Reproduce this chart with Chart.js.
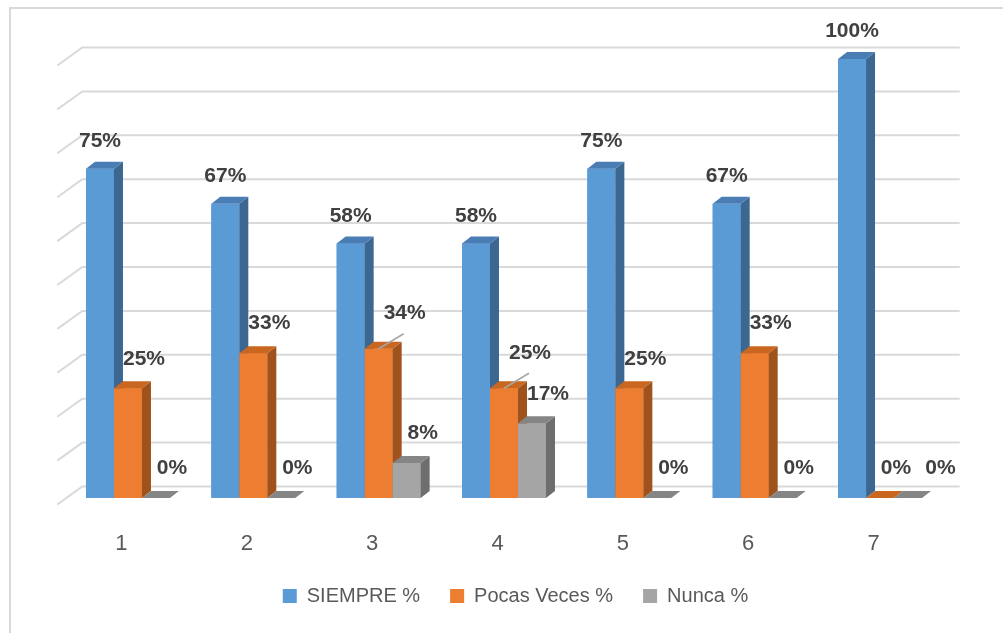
<!DOCTYPE html>
<html>
<head>
<meta charset="utf-8">
<script src="https://cdn.jsdelivr.net/npm/chart.js@4.4.1/dist/chart.umd.min.js"></script>
<style>
  html, body { margin: 0; padding: 0; background: #fff; overflow: hidden; }
  #wrap { position: relative; width: 1003px; height: 633px; }
  #marco { position: absolute; left: 9px; top: 7px; right: 0; bottom: 0;
           border-left: 2px solid #d9d9d9; border-top: 2px solid #d9d9d9; pointer-events: none; }
</style>
</head>
<body>
<div id="wrap">
  <canvas id="grafico" width="1003" height="633"></canvas>
  <div id="marco"></div>
</div>
<script>
// datos
const categorias = ['1', '2', '3', '4', '5', '6', '7'];
const siempre = [75, 67, 58, 58, 75, 67, 100];
const pocasVeces = [25, 33, 34, 25, 25, 33, 0];
const nunca = [0, 0, 8, 17, 0, 0, 0];
const series = ['SIEMPRE %', 'Pocas Veces %', 'Nunca %'];

// colores de cada cara de las barras 3D
const caras = [
  { frente: '#5B9BD5', lado: '#3C6791', tope: '#4A7DB3' },
  { frente: '#ED7D31', lado: '#A0521C', tope: '#C9661F' },
  { frente: '#A5A5A5', lado: '#6E6E6E', tope: '#858585' }
];
const PROF_X = 9, PROF_Y = -7;

Chart.defaults.font.family = '"Liberation Sans", Arial, sans-serif';

function poligono(ctx, color, pts) {
  ctx.fillStyle = color;
  ctx.beginPath();
  ctx.moveTo(pts[0][0], pts[0][1]);
  for (let k = 1; k < pts.length; k++) ctx.lineTo(pts[k][0], pts[k][1]);
  ctx.closePath();
  ctx.fill();
}

const efecto3d = {
  id: 'efecto3d',
  beforeDatasetsDraw(chart) {
    // pared del fondo con sus lineas
    const { ctx, chartArea, scales: { y } } = chart;
    ctx.save();
    ctx.strokeStyle = '#d9d9d9';
    ctx.lineWidth = 2;
    y.ticks.forEach(t => {
      const yb = y.getPixelForValue(t.value) - 11.5;
      ctx.beginPath();
      ctx.moveTo(chartArea.left - 8, yb + 18);
      ctx.lineTo(chartArea.left + 17, yb);
      ctx.lineTo(chartArea.right + 17, yb);
      ctx.stroke();
    });
    ctx.restore();
  },
  afterDatasetsDraw(chart) {
    const { ctx } = chart;
    const metas = chart.data.datasets.map((_, d) => chart.getDatasetMeta(d));
    ctx.save();
    // caras de las barras, categoria por categoria
    categorias.forEach((_, i) => {
      metas.forEach((meta, d) => {
        const b = meta.data[i].getProps(['x', 'y', 'base', 'width'], true);
        const x0 = b.x - b.width / 2, x1 = b.x + b.width / 2;
        const c = caras[d];
        ctx.fillStyle = c.frente;
        ctx.fillRect(x0, b.y, b.width, b.base - b.y);
        poligono(ctx, c.lado, [[x1, b.y], [x1 + PROF_X, b.y + PROF_Y], [x1 + PROF_X, b.base + PROF_Y], [x1, b.base]]);
        poligono(ctx, c.tope, [[x0, b.y], [x1, b.y], [x1 + PROF_X, b.y + PROF_Y], [x0 + PROF_X, b.y + PROF_Y]]);
      });
    });

    // etiquetas de datos
    ctx.font = 'bold 21px "Liberation Sans", Arial, sans-serif';
    ctx.textAlign = 'center';
    ctx.textBaseline = 'bottom';
    categorias.forEach((_, i) => {
      let prevRight = -Infinity, prevBottom = -1000;
      metas.forEach((meta, d) => {
        const b = meta.data[i].getProps(['x', 'y', 'base', 'width'], true);
        const valor = chart.data.datasets[d].data[i];
        const texto = valor + '%';
        const w = ctx.measureText(texto).width;
        let cx = b.x, bottom = b.y - 17;
        if (d > 0) { cx = b.x + 16; bottom = b.y - 19; }
        const sig = chart.data.datasets[d + 1];
        if (d > 0 && sig && sig.data[i] > 0) {
          cx = b.x + 26; bottom = b.y - 25;
          ctx.strokeStyle = '#a6a6a6';
          ctx.lineWidth = 1.5;
          ctx.beginPath();
          ctx.moveTo(b.x, b.y);
          ctx.lineTo(b.x + 25, b.y - 15);
          ctx.stroke();
        }
        if (cx - w / 2 < prevRight + 14 && Math.abs(bottom - prevBottom) < 20) {
          cx = prevRight + 14 + w / 2;
        }
        ctx.fillStyle = '#404040';
        ctx.fillText(texto, cx, bottom);
        prevRight = cx + w / 2;
        prevBottom = bottom;
      });
    });
    ctx.restore();
  }
};

new Chart(document.getElementById('grafico'), {
  type: 'bar',
  data: {
    labels: categorias,
    datasets: [
      { label: series[0], data: siempre, backgroundColor: caras[0].frente },
      { label: series[1], data: pocasVeces, backgroundColor: caras[1].frente },
      { label: series[2], data: nunca, backgroundColor: caras[2].frente }
    ]
  },
  options: {
    responsive: false,
    animation: false,
    layout: { padding: { top: 59, left: 65.3, right: 37.3, bottom: 17 } },
    datasets: { bar: { categoryPercentage: 0.67, barPercentage: 1 } },
    plugins: {
      legend: {
        position: 'bottom',
        labels: { boxWidth: 14, boxHeight: 14, padding: 30, color: '#595959', font: { size: 20 } }
      },
      tooltip: { enabled: false }
    },
    scales: {
      x: {
        grid: { display: false },
        border: { display: false },
        ticks: { color: '#595959', font: { size: 22 }, padding: 25, labelOffset: -6.5 },
        afterFit(s) { s.height = 58; }
      },
      y: { display: false, min: 0, max: 100, ticks: { stepSize: 10 } },
      yDer: {
        position: 'right',
        grid: { display: false },
        border: { display: false },
        ticks: { display: false },
        afterFit(s) { s.width = 23; }
      }
    }
  },
  plugins: [efecto3d]
});
</script>
</body>
</html>
